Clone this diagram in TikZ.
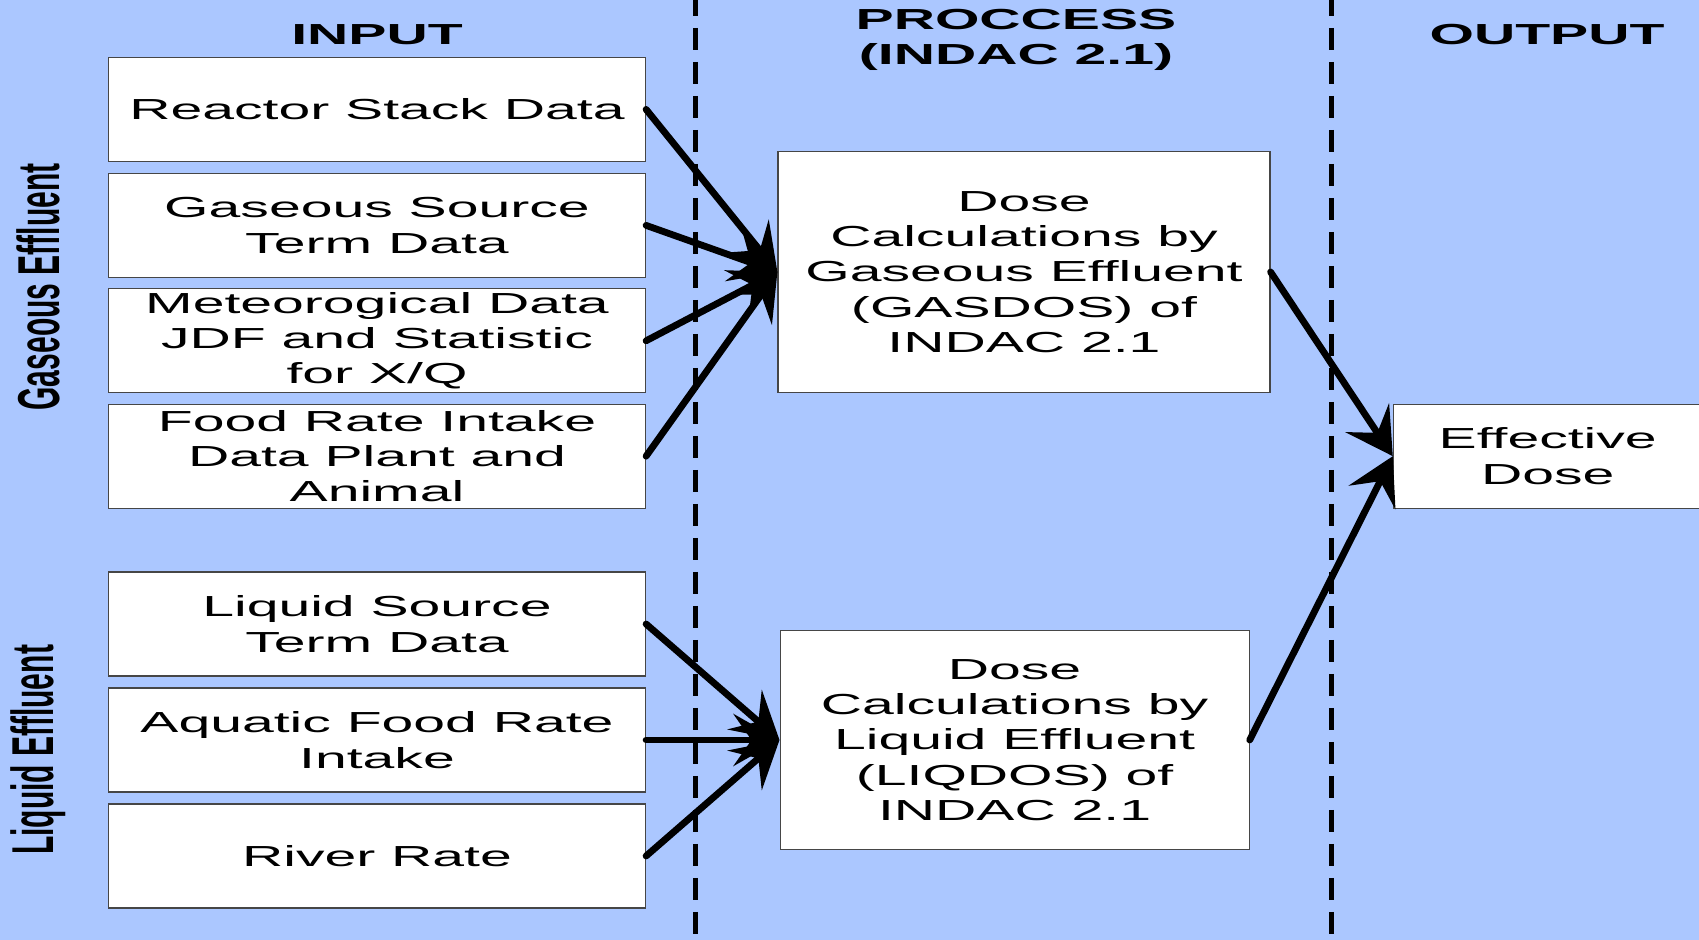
\documentclass[tikz,border=0pt]{standalone}
\usepackage{graphicx}
\usepackage{fontspec}
\setmainfont{Liberation Sans}[FakeStretch=1.97]
\newfontfamily\sidefont{Liberation Sans}
\usetikzlibrary{arrows.meta}
\definecolor{bg}{RGB}{171,199,255}
\definecolor{bordercol}{RGB}{70,70,70}
\newcommand\myBody{\fontsize{14.5}{17.7}\selectfont}
\newcommand\myHead{\fontsize{14.5}{17.4}\selectfont\bfseries}
\newcommand\mySide{\sidefont\fontsize{15}{18}\selectfont\bfseries}
\begin{document}
\begin{tikzpicture}[x=0.5pt,y=-0.5pt,
  box/.style={draw=bordercol,line width=0.6pt,fill=white,inner sep=0pt,align=center,font=\myBody},
  inbox/.style={box,minimum width=268.5pt,minimum height=52pt},
  head/.style={align=center,inner sep=0pt,font=\myHead},
  side/.style={inner sep=0pt,font=\mySide,rotate=90},
  sep/.style={line width=2.6pt,dash pattern=on 11pt off 6pt},
  arr/.style={line width=3.4pt,line cap=round,-{Stealth[length=23pt,width=26pt,inset=9pt]}}]
\clip (0,0) rectangle (1699,940);
\fill[bg] (0,0) rectangle (1699,940);

% separators
\coordinate (s1t) at (695.6,-6);
\coordinate (s1b) at (695.6,940);
\coordinate (s2t) at (1331.6,-6);
\coordinate (s2b) at (1331.6,940);
\draw[sep] (s1t) -- (s1b);
\draw[sep] (s2t) -- (s2b);

% headers
\node[head] (hin) at (377,34.7) {INPUT};
\node[head] (hproc) at (1016,40.1) {PROCCESS\\(INDAC 2.1)};
\node[head] (hout) at (1547,34.7) {OUTPUT};

% side labels
\node[side] (sg) at (38,287) {\scalebox{1}[1.97]{Gaseous Effluent}};
\node[side] (sl) at (38,750) {\scalebox{1}[1.97]{Liquid Effluent}};

% input boxes
\node[inbox] (b1) at (377,109.4) {Reactor Stack Data};
\node[inbox] (b2) at (377,225.4) {Gaseous Source\\Term Data};
\node[inbox] (b3) at (377,340.8) {Meteorogical Data\\JDF and Statistic\\for X/Q};
\node[inbox] (b4) at (377,456.2) {Food Rate Intake\\Data Plant and\\Animal};
\node[inbox] (b5) at (377,624) {Liquid Source\\Term Data};
\node[inbox] (b6) at (377,740) {Aquatic Food Rate\\Intake};
\node[inbox] (b7) at (377,856) {River Rate};

% process boxes
\node[box,minimum width=246pt,minimum height=120.25pt] (gas) at (1024,272)
  {Dose\\Calculations by\\Gaseous Effluent\\(GASDOS) of\\INDAC 2.1};
\node[box,minimum width=234.5pt,minimum height=109.5pt] (liq) at (1014.6,740)
  {Dose\\Calculations by\\Liquid Effluent\\(LIQDOS) of\\INDAC 2.1};

% output box
\node[box,minimum width=154.3pt,minimum height=52pt] (eff) at (1547.7,456.2)
  {Effective\\Dose};

% connectors
\draw[arr] (b1.east) -- (gas.west);
\draw[arr] (b2.east) -- (gas.west);
\draw[arr] (b3.east) -- (gas.west);
\draw[arr] (b4.east) -- (gas.west);
\draw[arr] (b5.east) -- (liq.west);
\draw[arr] (b6.east) -- (liq.west);
\draw[arr] (b7.east) -- (liq.west);
\draw[arr] (gas.east) -- (eff.west);
\draw[arr] (liq.east) -- (eff.west);
\end{tikzpicture}
\end{document}
